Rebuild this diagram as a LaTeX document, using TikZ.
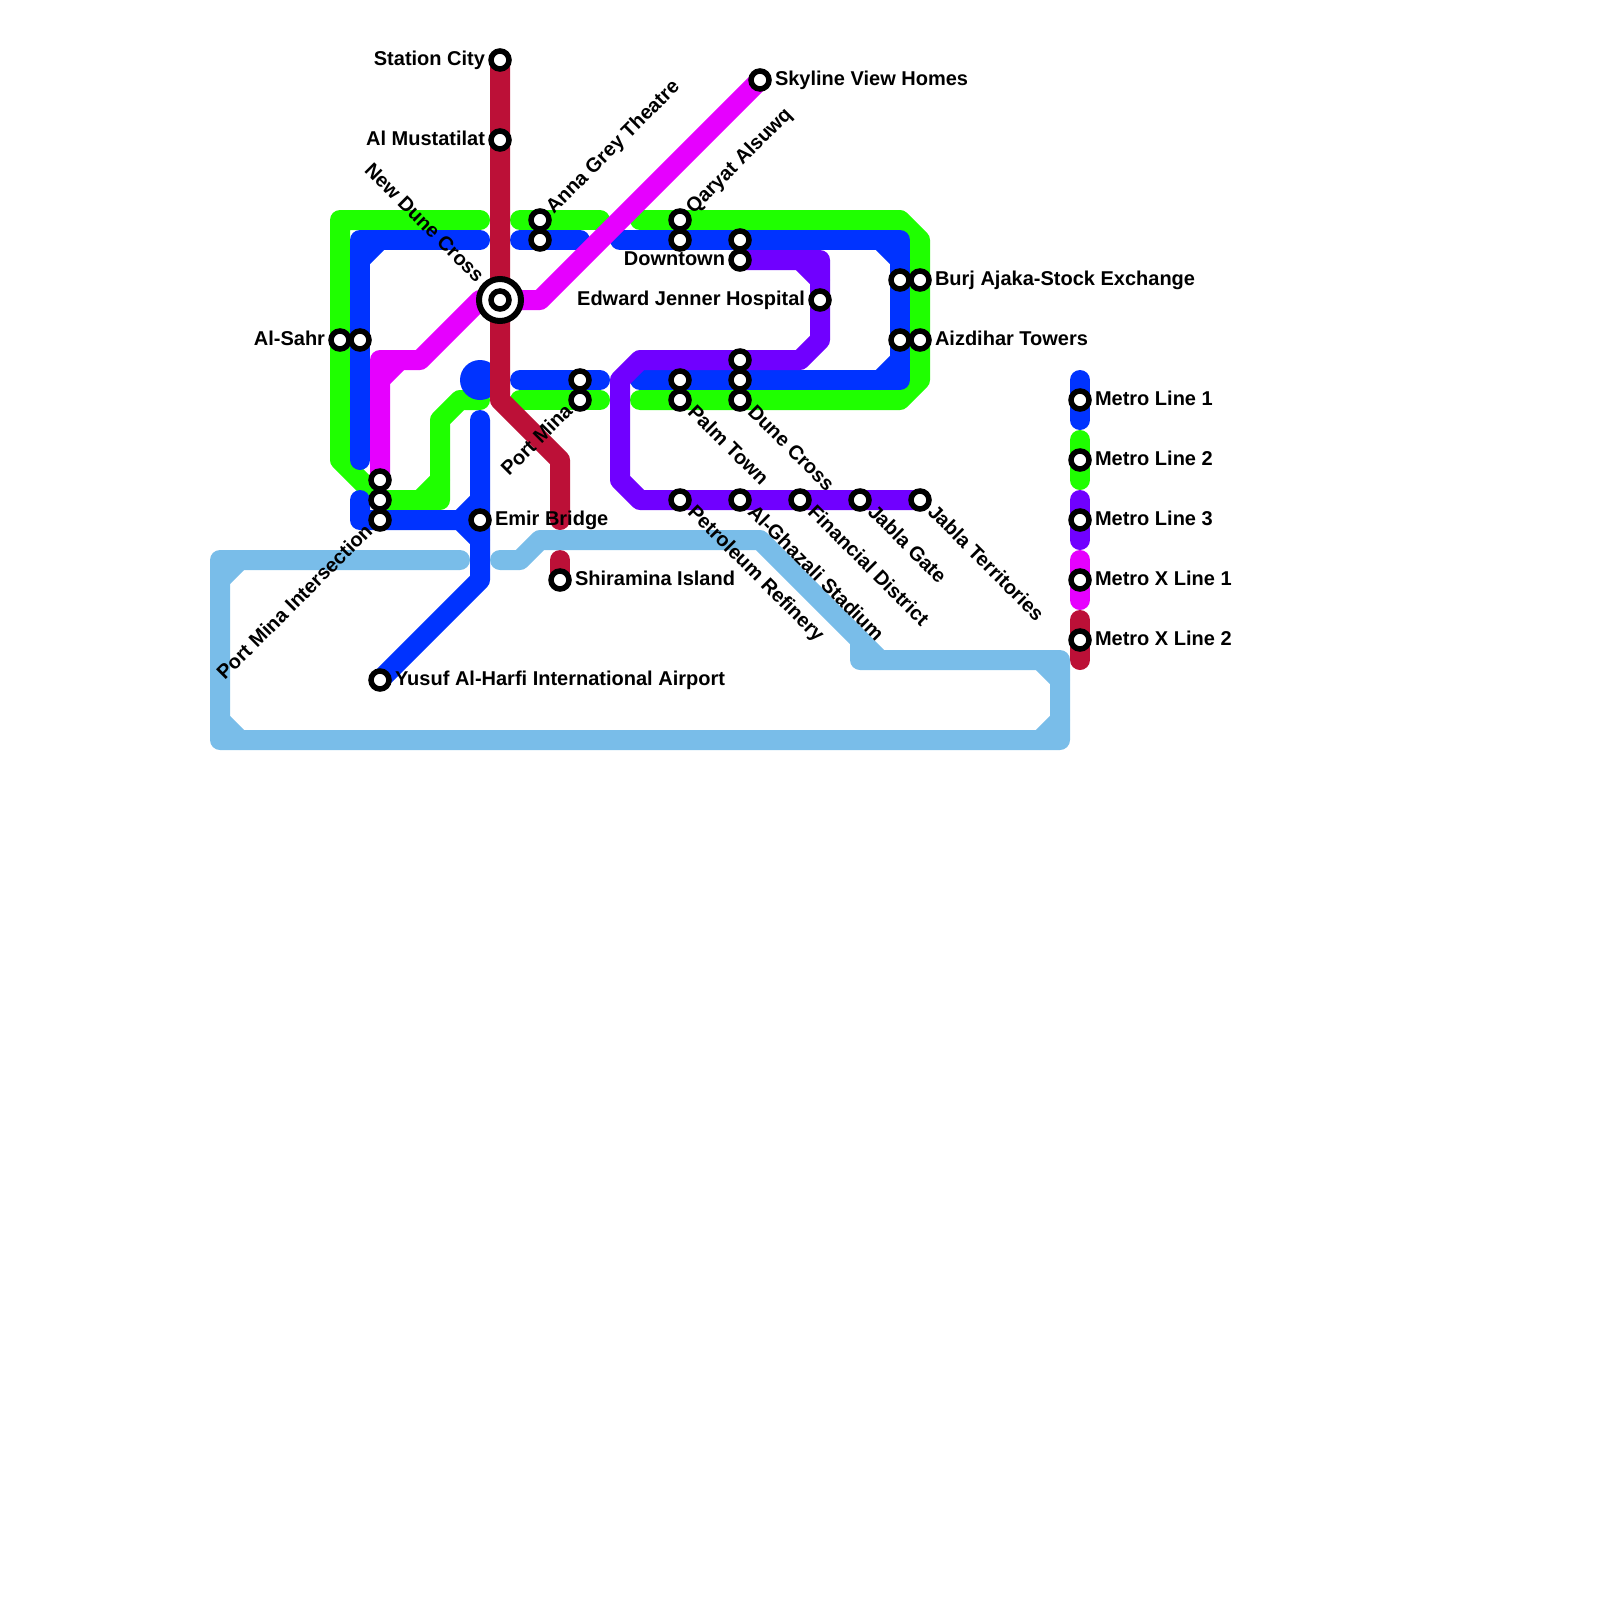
\documentclass[tikz,border=0pt]{standalone}
\usepackage{fontspec}
\setmainfont{Liberation Sans}
\usetikzlibrary{backgrounds}
\definecolor{linegreen}{HTML}{1FFF00}
\definecolor{lineblue}{HTML}{0033FF}
\definecolor{linepurple}{HTML}{7000FF}
\definecolor{linemagenta}{HTML}{E600FF}
\definecolor{linecrimson}{HTML}{BC1037}
\definecolor{linesky}{HTML}{79BDE9}
\begin{document}
\begin{tikzpicture}[
    x=0.5pt, y=-0.5pt,
    mline/.style={
        draw=#1, line width=10pt, line join=round, line cap=round
    },
    station/.style={
        circle, draw=black, line width=2.75pt, fill=white,
        minimum size=9pt, inner sep=0pt, outer sep=0pt
    },
    hubring/.style={
        circle, draw=black, line width=3pt, fill=white,
        minimum size=21pt, inner sep=0pt, outer sep=0pt
    },
    hubdot/.style={
        circle, fill=lineblue, minimum size=20pt, inner sep=0pt, outer sep=0pt
    },
    stn/.style={
        font=\fontsize{10}{12}\selectfont\bfseries, inner sep=0pt, outer sep=0pt
    },
    stnright/.style={stn, anchor=base west, xshift=7.5pt, yshift=-2.7pt},
    stnleft/.style={stn, anchor=base east, xshift=-7.5pt, yshift=-2.7pt},
    stnup/.style={stn, anchor=base west, rotate=45, xshift=6.8pt, yshift=-3pt},
    stndown/.style={stn, anchor=base west, rotate=-45, xshift=7pt, yshift=-2.2pt},
    stnbackup/.style={stn, anchor=base east, rotate=45, xshift=-6.7pt, yshift=-2.1pt},
    stnbackdown/.style={stn, anchor=base east, rotate=-45, xshift=-14.3pt, yshift=-2.7pt}
]
\useasboundingbox (0,0) rectangle (1600,1600);

% ── Stations ──
\node[station] (stationcity) at (500,60) {};
\node[station] (mustatilat) at (500,140) {};
\node[hubring] (dunehub) at (500,300) {};
\node[station] (dunecrossnew) at (500,300) {};
\node[station] (skyline) at (760,80) {};
\node[station] (annagreen) at (540,220) {};
\node[station] (annablue) at (540,240) {};
\node[station] (qaryatgreen) at (680,220) {};
\node[station] (qaryatblue) at (680,240) {};
\node[station] (downblue) at (740,240) {};
\node[station] (downpurple) at (740,260) {};
\node[station] (jenner) at (820,300) {};
\node[station] (burjblue) at (900,280) {};
\node[station] (burjgreen) at (920,280) {};
\node[station] (aizblue) at (900,340) {};
\node[station] (aizgreen) at (920,340) {};
\node[station] (sahrgreen) at (340,340) {};
\node[station] (sahrblue) at (360,340) {};
\node[station] (minablue) at (580,380) {};
\node[station] (minagreen) at (580,400) {};
\node[station] (palmblue) at (680,380) {};
\node[station] (palmgreen) at (680,400) {};
\node[station] (crosspurple) at (740,360) {};
\node[station] (crossblue) at (740,380) {};
\node[station] (crossgreen) at (740,400) {};
\node[station] (pmimagenta) at (380,480) {};
\node[station] (pmigreen) at (380,500) {};
\node[station] (pmiblue) at (380,520) {};
\node[station] (emir) at (480,520) {};
\node[station] (shiramina) at (560,580) {};
\node[station] (yusuf) at (380,680) {};
\node[station] (petroleum) at (680,500) {};
\node[station] (ghazali) at (740,500) {};
\node[station] (financial) at (800,500) {};
\node[station] (jablagate) at (860,500) {};
\node[station] (jablaterr) at (920,500) {};
\node[station] (keyone) at (1080,400) {};
\node[station] (keytwo) at (1080,460) {};
\node[station] (keythree) at (1080,520) {};
\node[station] (keyfour) at (1080,580) {};
\node[station] (keyfive) at (1080,640) {};

% ── Bends and line ends ──
\coordinate (gA) at (480,220); \coordinate (gB) at (340,220); \coordinate (gC) at (340,460);
\coordinate (gD) at (440,500); \coordinate (gE) at (440,420); \coordinate (gF) at (460,400);
\coordinate (gG) at (480,400); \coordinate (gH) at (420,500); \coordinate (gI) at (440,480);
\coordinate (gJ) at (520,220); \coordinate (gK) at (600,220); \coordinate (gL) at (520,400);
\coordinate (gM) at (600,400); \coordinate (gN) at (640,220); \coordinate (gO) at (900,220);
\coordinate (gP) at (920,240); \coordinate (gQ) at (920,380); \coordinate (gR) at (900,400);
\coordinate (gS) at (640,400);
\coordinate (bA) at (480,240); \coordinate (bB) at (360,240); \coordinate (bC) at (360,460);
\coordinate (bD) at (380,240); \coordinate (bE) at (360,260); \coordinate (bF) at (520,240);
\coordinate (bG) at (580,240); \coordinate (bH) at (620,240); \coordinate (bI) at (900,240);
\coordinate (bJ) at (900,380); \coordinate (bK) at (640,380); \coordinate (bL) at (880,240);
\coordinate (bM) at (900,260); \coordinate (bN) at (900,360); \coordinate (bO) at (880,380);
\coordinate (bP) at (520,380); \coordinate (bQ) at (600,380); \coordinate (bR) at (480,420);
\coordinate (bS) at (480,580); \coordinate (bT) at (360,500); \coordinate (bU) at (360,520);
\coordinate (bV) at (460,520); \coordinate (bW) at (480,500); \coordinate (bX) at (480,540);
\coordinate (bY) at (480,380);
\coordinate (pA) at (820,260); \coordinate (pB) at (820,340); \coordinate (pC) at (800,360);
\coordinate (pD) at (640,360); \coordinate (pE) at (620,380); \coordinate (pF) at (620,480);
\coordinate (pG) at (640,500); \coordinate (pH) at (800,260); \coordinate (pI) at (820,280);
\coordinate (mA) at (540,300); \coordinate (mB) at (480,300); \coordinate (mC) at (420,360);
\coordinate (mD) at (380,360); \coordinate (mE) at (400,360); \coordinate (mF) at (380,380);
\coordinate (cA) at (500,400); \coordinate (cB) at (560,460); \coordinate (cC) at (560,520);
\coordinate (cD) at (560,560);
\coordinate (sA) at (460,560); \coordinate (sB) at (220,560); \coordinate (sC) at (220,740);
\coordinate (sD) at (1060,740); \coordinate (sE) at (1060,660); \coordinate (sF) at (860,660);
\coordinate (sG) at (860,640); \coordinate (sH) at (760,540); \coordinate (sI) at (540,540);
\coordinate (sJ) at (520,560); \coordinate (sK) at (500,560); \coordinate (sL) at (880,660);
\coordinate (sM) at (240,560); \coordinate (sN) at (220,580); \coordinate (sO) at (220,720);
\coordinate (sP) at (240,740); \coordinate (sQ) at (1040,660); \coordinate (sR) at (1060,680);
\coordinate (sS) at (1060,720); \coordinate (sT) at (1040,740);
\coordinate (kA) at (1080,380); \coordinate (kB) at (1080,420); \coordinate (kC) at (1080,440);
\coordinate (kD) at (1080,480); \coordinate (kE) at (1080,500); \coordinate (kF) at (1080,540);
\coordinate (kG) at (1080,560); \coordinate (kH) at (1080,600); \coordinate (kI) at (1080,620);
\coordinate (kJ) at (1080,660);

\begin{scope}[on background layer]
    % ── Metro Line 2 ──
    \draw[mline=linegreen] (gA) -- (gB) -- (sahrgreen.center) -- (gC) -- (pmigreen.center) -- (gD) -- (gE) -- (gF) -- (gG);
    \draw[mline=linegreen] (gH) -- (gI);
    \draw[mline=linegreen] (gJ) -- (annagreen.center) -- (gK);
    \draw[mline=linegreen] (gL) -- (minagreen.center) -- (gM);
    \draw[mline=linegreen] (gN) -- (qaryatgreen.center) -- (gO) -- (gP) -- (burjgreen.center) -- (aizgreen.center) -- (gQ) -- (gR) -- (crossgreen.center) -- (palmgreen.center) -- (gS);
    \draw[mline=linegreen] (kC) -- (keytwo.center) -- (kD);

    % ── Metro Line 1 ──
    \draw[mline=lineblue] (bA) -- (bB) -- (sahrblue.center) -- (bC);
    \draw[mline=lineblue] (bD) -- (bE);
    \draw[mline=lineblue] (bF) -- (annablue.center) -- (bG);
    \draw[mline=lineblue] (bH) -- (qaryatblue.center) -- (downblue.center) -- (bI) -- (burjblue.center) -- (aizblue.center) -- (bJ) -- (crossblue.center) -- (palmblue.center) -- (bK);
    \draw[mline=lineblue] (bL) -- (bM);
    \draw[mline=lineblue] (bN) -- (bO);
    \draw[mline=lineblue] (bP) -- (minablue.center) -- (bQ);
    \draw[mline=lineblue] (bR) -- (emir.center) -- (bS) -- (yusuf.center);
    \draw[mline=lineblue] (bT) -- (bU) -- (pmiblue.center) -- (bV) -- (bX);
    \draw[mline=lineblue] (bV) -- (bW);
    \node[hubdot] (bluedot) at (bY) {};
    \draw[mline=lineblue] (kA) -- (keyone.center) -- (kB);

    % ── Metro Line 3 ──
    \draw[mline=linepurple] (downpurple.center) -- (pA) -- (pB) -- (pC) -- (crosspurple.center) -- (pD) -- (pE) -- (pF) -- (pG) -- (petroleum.center) -- (ghazali.center) -- (financial.center) -- (jablagate.center) -- (jablaterr.center);
    \draw[mline=linepurple] (pH) -- (pI);
    \draw[mline=linepurple] (kE) -- (keythree.center) -- (kF);

    % ── Metro X Line 1 ──
    \draw[mline=linemagenta] (skyline.center) -- (mA) -- (dunecrossnew.center) -- (mB) -- (mC) -- (mD) -- (pmimagenta.center);
    \draw[mline=linemagenta] (mE) -- (mF);
    \draw[mline=linemagenta] (kG) -- (keyfour.center) -- (kH);

    % ── Metro X Line 2 ──
    \draw[mline=linecrimson] (stationcity.center) -- (mustatilat.center) -- (cA) -- (cB) -- (cC);
    \draw[mline=linecrimson] (cD) -- (shiramina.center);
    \draw[mline=linecrimson] (kI) -- (keyfive.center) -- (kJ);

    % ── Sky blue line ──
    \draw[mline=linesky] (sA) -- (sB) -- (sC) -- (sD) -- (sE) -- (sF) -- (sG) -- (sH) -- (sI) -- (sJ) -- (sK);
    \draw[mline=linesky] (sG) -- (sL);
    \draw[mline=linesky] (sM) -- (sN);
    \draw[mline=linesky] (sO) -- (sP);
    \draw[mline=linesky] (sQ) -- (sR);
    \draw[mline=linesky] (sS) -- (sT);
\end{scope}

% ── Station names ──
\node[stnleft] (tstationcity) at (stationcity.center) {Station City};
\node[stnleft] (tmustatilat) at (mustatilat.center) {Al Mustatilat};
\node[stnbackdown] (tdunecrossnew) at (dunecrossnew.center) {New Dune Cross};
\node[stnright] (tskyline) at (skyline.center) {Skyline View Homes};
\node[stnup] (tanna) at (annagreen.center) {Anna Grey Theatre};
\node[stnup] (tqaryat) at (qaryatgreen.center) {Qaryat Alsuwq};
\node[stnleft] (tdowntown) at (downpurple.center) {Downtown};
\node[stnleft] (tjenner) at (jenner.center) {Edward Jenner Hospital};
\node[stnright] (tburj) at (burjgreen.center) {Burj Ajaka-Stock Exchange};
\node[stnright] (taiz) at (aizgreen.center) {Aizdihar Towers};
\node[stnleft] (tsahr) at (sahrgreen.center) {Al-Sahr};
\node[stnbackup] (tmina) at (minagreen.center) {Port Mina};
\node[stndown] (tpalm) at (palmgreen.center) {Palm Town};
\node[stndown] (tcross) at (crossgreen.center) {Dune Cross};
\node[stnbackup] (tpmi) at (pmiblue.center) {Port Mina Intersection};
\node[stnright] (temir) at (emir.center) {Emir Bridge};
\node[stnright] (tshiramina) at (shiramina.center) {Shiramina Island};
\node[stnright] (tyusuf) at (yusuf.center) {Yusuf Al-Harfi International Airport};
\node[stndown] (tpetroleum) at (petroleum.center) {Petroleum Refinery};
\node[stndown] (tghazali) at (ghazali.center) {Al-Ghazali Stadium};
\node[stndown] (tfinancial) at (financial.center) {Financial District};
\node[stndown] (tjablagate) at (jablagate.center) {Jabla Gate};
\node[stndown] (tjablaterr) at (jablaterr.center) {Jabla Territories};
\node[stnright] (tkeyone) at (keyone.center) {Metro Line 1};
\node[stnright] (tkeytwo) at (keytwo.center) {Metro Line 2};
\node[stnright] (tkeythree) at (keythree.center) {Metro Line 3};
\node[stnright] (tkeyfour) at (keyfour.center) {Metro X Line 1};
\node[stnright] (tkeyfive) at (keyfive.center) {Metro X Line 2};

\end{tikzpicture}
\end{document}
